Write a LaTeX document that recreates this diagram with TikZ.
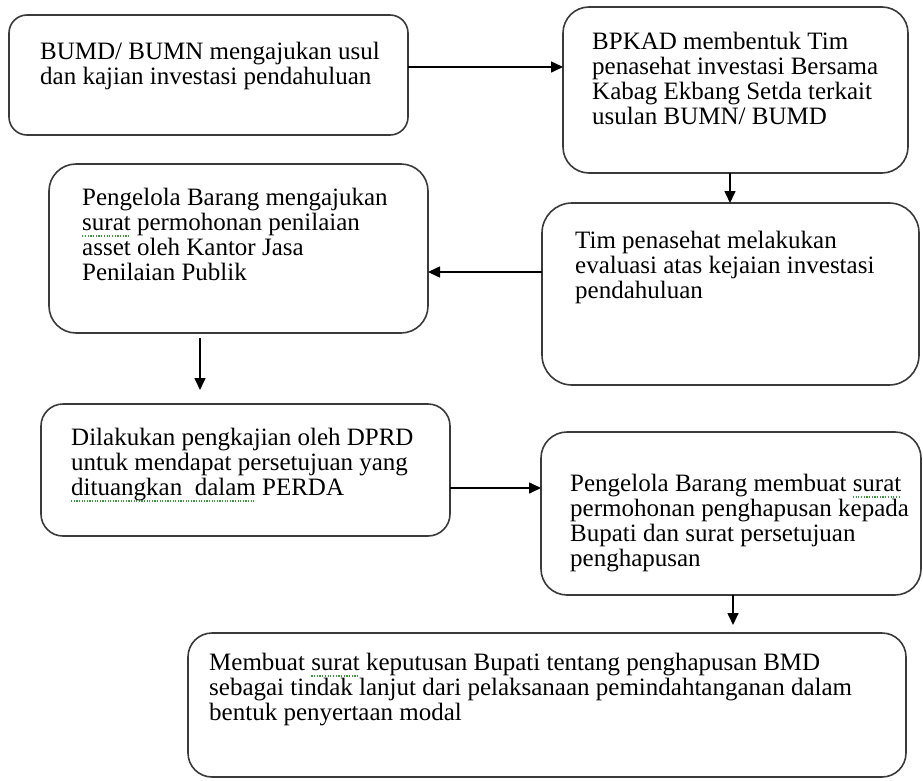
\documentclass[tikz,border=0pt]{standalone}
\usepackage{fontspec}
\setmainfont{Liberation Serif}
\usetikzlibrary{arrows.meta}
\definecolor{boxline}{HTML}{3A3A3A}
\definecolor{spellg}{HTML}{3C9A3C}
\newsavebox\spellbox
\newcommand\spellmark[1]{\leavevmode\sbox\spellbox{#1}\rlap{\raisebox{-6pt}[0pt][0pt]{\color{spellg}\hbox to \wd\spellbox{\xleaders\hbox{\rule{1.2pt}{1.2pt}\hspace{1.4pt}}\hfill}}}\usebox\spellbox}
\begin{document}
\begin{tikzpicture}[x=1pt,y=-1pt,
  box/.style={draw=boxline, line width=1.6pt, fill=white, anchor=north west, inner sep=0pt, outer sep=0pt},
  txt/.style={anchor=north west, inner sep=0pt, align=left, font=\fontsize{25}{25}\selectfont, text=black},
  arr/.style={draw=black, line width=1.6pt, -{Triangle[length=12pt,width=11pt]}}]
\useasboundingbox (0,0) rectangle (923,781);

% boxes
\node[box, rounded corners=18pt, minimum width=399pt, minimum height=120pt] (b1) at (9,15) {};
\node[box, rounded corners=26pt, minimum width=345pt, minimum height=166pt] (b2) at (563,7) {};
\node[box, rounded corners=27pt, minimum width=379pt, minimum height=169pt] (b3) at (49,164) {};
\node[box, rounded corners=30pt, minimum width=377pt, minimum height=182pt] (b4) at (542,203) {};
\node[box, rounded corners=22pt, minimum width=409pt, minimum height=132pt] (b5) at (41,404) {};
\node[box, rounded corners=26pt, minimum width=380pt, minimum height=163pt] (b6) at (541,432) {};
\node[box, rounded corners=24pt, minimum width=718pt, minimum height=144pt] (b7) at (188,633) {};

% texts
\node[txt] (t1) at (40,42) {BUMD/ BUMN mengajukan usul\\dan kajian investasi pendahuluan};
\node[txt] (t2) at (592,32) {BPKAD membentuk Tim\\penasehat investasi Bersama\\Kabag Ekbang Setda terkait\\usulan BUMN/ BUMD};
\node[txt] (t3) at (82,188) {Pengelola Barang mengajukan\\\spellmark{surat} permohonan penilaian\\asset oleh Kantor Jasa\\Penilaian Publik};
\node[txt] (t4) at (575,231) {Tim penasehat melakukan\\evaluasi atas kejaian investasi\\pendahuluan};
\node[txt] (t5) at (71,428) {Dilakukan pengkajian oleh DPRD\\untuk mendapat persetujuan yang\\\spellmark{dituangkan\ \ dalam} PERDA};
\node[txt] (t6) at (570,474) {Pengelola Barang membuat \spellmark{surat}\\permohonan penghapusan kepada\\Bupati dan surat persetujuan\\penghapusan};
\node[txt] (t7) at (209,653) {Membuat \spellmark{surat} keputusan Bupati tentang penghapusan BMD\\sebagai tindak lanjut dari pelaksanaan pemindahtanganan dalam\\bentuk penyertaan modal};

% connector reference coordinates
\coordinate (r12) at (0,67);
\coordinate (c24) at (730,0);
\coordinate (r43) at (0,272);
\coordinate (c35) at (200,0);
\coordinate (r56) at (0,488);
\coordinate (c67) at (733,0);

% connectors
\draw[arr] (b1.east |- r12) -- (b2.west |- r12);
\draw[arr] (c24 |- b2.south) -- (c24 |- b4.north);
\draw[arr] (b4.west |- r43) -- (b3.east |- r43);
\draw[arr, shorten <=5pt, shorten >=14pt] (c35 |- b3.south) -- (c35 |- b5.north);
\draw[arr] (b5.east |- r56) -- (b6.west |- r56);
\draw[arr, shorten >=8pt] (c67 |- b6.south) -- (c67 |- b7.north);
\end{tikzpicture}
\end{document}
